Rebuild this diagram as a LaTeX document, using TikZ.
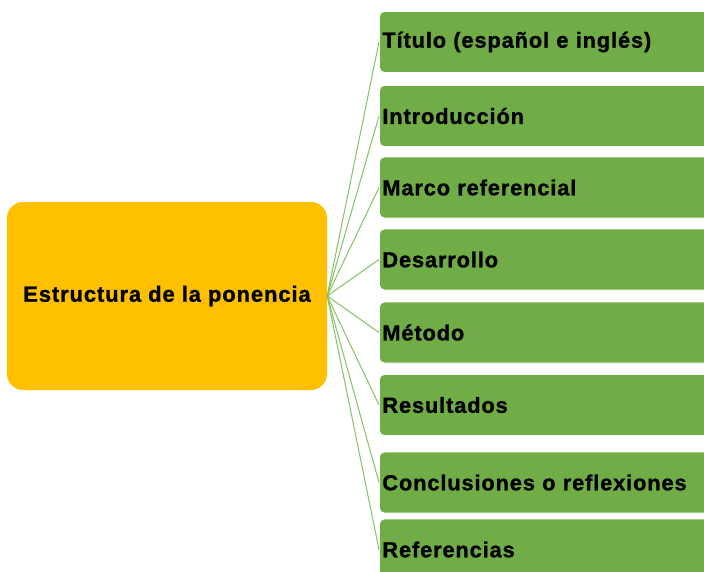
\documentclass[tikz,border=0pt]{standalone}
\usepackage{fontspec}
\setmainfont{Liberation Sans}[LetterSpace=4, BoldFeatures={FakeBold=1.2}]
\definecolor{boxgreen}{HTML}{70AD47}
\definecolor{rootorange}{HTML}{FFC000}
\definecolor{linegreen}{HTML}{86C063}
\tikzset{
  gbox/.style={fill=boxgreen, draw=white, line width=0.8pt, rounded corners=5pt,
    anchor=west, minimum height=61pt, text width=327pt, inner xsep=3pt, align=left,
    font=\bfseries\fontsize{21.8}{24}\selectfont},
  rootbox/.style={fill=rootorange, draw=none, rounded corners=16pt,
    minimum width=320pt, minimum height=188pt, align=center,
    font=\bfseries\fontsize{22}{24}\selectfont},
  conn/.style={draw=linegreen, line width=1pt}
}
\begin{document}
\begin{tikzpicture}[x=1pt,y=-1pt]
\useasboundingbox (0,0) rectangle (704,571);
\clip (0,0) rectangle (704,571);
\node[rootbox] (root) at (167,296) {Estructura de la ponencia};
\node[gbox] (b1) at (379,42) {Título (español e inglés)};
\node[gbox] (b2) at (379,116) {Introducción};
\node[gbox] (b3) at (379,187.5) {Marco referencial};
\node[gbox] (b4) at (379,259.5) {Desarrollo};
\node[gbox] (b5) at (379,332.5) {Método};
\node[gbox] (b6) at (379,405) {Resultados};
\node[gbox] (b7) at (379,482.5) {Conclusiones o reflexiones};
\node[gbox] (b8) at (379,549.5) {Referencias};
\foreach \b in {b1,b2,b3,b4,b5,b6,b7,b8}
  \draw[conn] (root.east) -- (\b.west);
\end{tikzpicture}
\end{document}
